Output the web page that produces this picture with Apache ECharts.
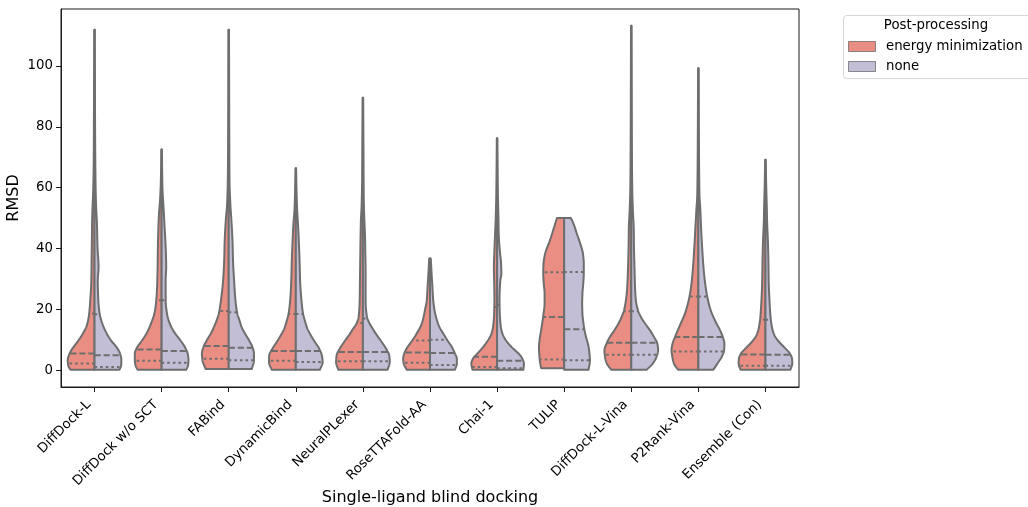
<!DOCTYPE html>
<html>
<head>
<meta charset="utf-8">
<script src="https://cdn.jsdelivr.net/npm/echarts@6/dist/echarts.min.js"></script>
<style>
  html, body { margin: 0; padding: 0; background: #ffffff; }
  #chart { width: 1028px; height: 507px; }
</style>
</head>
<body>
<div id="chart"></div>
<script>
// Docking methods on the x axis
const categories = [
  'DiffDock-L', 'DiffDock w/o SCT', 'FABind', 'DynamicBind', 'NeuralPLexer',
  'RoseTTAFold-AA', 'Chai-1', 'TULIP', 'DiffDock-L-Vina', 'P2Rank-Vina', 'Ensemble (Con)'
];
const groups = ['energy minimization', 'none'];
const yTicks = [0, 20, 40, 60, 80, 100];

// Violin outlines per method: [RMSD, half-width relative to the widest half]
const shapeEnergyMin = [
  [[0.2,0.9],[1.5,0.98],[3.3,1.0],[5.5,0.93],[7.7,0.78],[9.8,0.6],[12,0.44],[14.2,0.31],[16.4,0.24],[18.6,0.2],[23,0.16],[29.5,0.12],[36,0.11],[42.7,0.1],[49.2,0.09],[53.6,0.075],[59,0.05],[70,0.03],[90,0.02],[111.9,0.01]],
  [[0.2,0.9],[1.5,0.97],[3.3,1.0],[5.5,1.0],[7.7,0.9],[9.8,0.73],[12,0.57],[14.2,0.45],[16.4,0.35],[18.6,0.27],[23,0.2],[27.4,0.17],[33.9,0.15],[40.5,0.14],[47,0.12],[51.4,0.1],[55.8,0.06],[62,0.03],[72.5,0.01]],
  [[0.4,0.86],[3.3,0.98],[5.5,1.0],[7.7,0.94],[9.8,0.82],[12,0.67],[14.2,0.55],[16.4,0.45],[18.6,0.37],[23,0.29],[29.5,0.21],[36,0.17],[42.7,0.15],[49.2,0.11],[54.7,0.06],[62,0.035],[80,0.02],[111.9,0.01]],
  [[0.2,0.9],[2.7,1.0],[4.9,0.99],[7.1,0.87],[9.3,0.71],[11.5,0.56],[13.7,0.43],[15.9,0.35],[18.6,0.27],[23,0.21],[29.5,0.17],[36,0.15],[42.7,0.12],[48.1,0.09],[52.5,0.05],[58,0.03],[66.4,0.01]],
  [[0.2,0.92],[2.7,1.0],[4.9,0.98],[7.1,0.86],[9.3,0.7],[11.5,0.52],[13.7,0.36],[15.3,0.24],[17.5,0.16],[23,0.12],[29.5,0.11],[36,0.1],[42.7,0.09],[49.2,0.075],[53.6,0.05],[62,0.03],[75,0.02],[89.5,0.01]],
  [[0.2,0.87],[2.2,0.98],[3.8,1.0],[5.5,0.96],[7.7,0.83],[9.8,0.66],[12,0.5],[14.2,0.36],[16.4,0.27],[19.7,0.19],[23,0.12],[27.4,0.09],[31.7,0.06],[36.7,0.03]],
  [[0.2,0.92],[2.2,0.96],[3.8,0.9],[5.5,0.73],[7.1,0.57],[8.8,0.42],[10.4,0.3],[12,0.21],[14.2,0.15],[18.6,0.11],[24,0.1],[29.5,0.11],[33.9,0.12],[39.4,0.1],[44.9,0.075],[50.3,0.05],[58,0.03],[76.2,0.01]],
  [[0.7,0.86],[3.3,0.91],[5.5,0.93],[7.7,0.94],[9.8,0.92],[12.6,0.87],[15.3,0.82],[18.6,0.77],[21.9,0.73],[25.2,0.73],[28.4,0.76],[31.7,0.78],[35,0.77],[38.3,0.71],[42.7,0.53],[46,0.41],[50,0.27]],
  [[0.2,0.75],[2.2,0.91],[4.4,0.98],[6.6,1.0],[8.8,0.92],[10.9,0.8],[13.1,0.63],[15.3,0.48],[17.5,0.36],[19.7,0.27],[23,0.2],[27.4,0.15],[33.9,0.12],[40.5,0.1],[47,0.09],[52.5,0.06],[60,0.035],[80,0.02],[113.2,0.01]],
  [[0.2,0.76],[2.2,0.91],[4.4,0.97],[6.6,1.0],[8.8,0.96],[10.9,0.87],[13.1,0.77],[15.3,0.66],[17.5,0.55],[19.7,0.46],[23,0.36],[27.4,0.27],[33.9,0.2],[40.5,0.15],[47,0.11],[52.5,0.075],[58,0.04],[70,0.025],[99.2,0.01]],
  [[0.2,0.93],[2.2,1.0],[3.8,0.99],[5.5,0.91],[7.1,0.75],[8.8,0.56],[10.4,0.41],[12,0.31],[14.2,0.24],[17.5,0.19],[23,0.15],[29.5,0.12],[36,0.11],[42.7,0.09],[49.2,0.06],[53.6,0.05],[60,0.03],[69.2,0.01]]
];
const shapeNone = [
  [[0.2,0.93],[1.5,0.99],[3.3,1.0],[5.5,0.95],[7.7,0.81],[9.8,0.61],[12,0.46],[14.2,0.34],[16.4,0.25],[18.6,0.19],[23,0.14],[29.5,0.12],[33.9,0.15],[40.5,0.11],[48,0.09],[53.6,0.06],[60,0.04],[80,0.02],[111.9,0.01]],
  [[0.2,0.92],[1.5,0.98],[3.3,1.0],[5.5,0.97],[7.7,0.86],[9.8,0.7],[12,0.51],[14.2,0.36],[16.4,0.26],[18.6,0.2],[23,0.15],[29.5,0.15],[33.9,0.17],[40.5,0.15],[47,0.11],[53.6,0.07],[60,0.03],[72.5,0.01]],
  [[0.4,0.86],[3.3,0.94],[5.5,0.94],[7.7,0.88],[9.8,0.76],[12,0.61],[14.2,0.48],[16.4,0.4],[18.6,0.32],[23,0.25],[29.5,0.2],[36,0.16],[42.7,0.14],[49.2,0.1],[54.7,0.06],[62,0.03],[80,0.02],[111.9,0.01]],
  [[0.2,0.9],[2.7,1.0],[4.9,0.97],[7.1,0.87],[9.3,0.71],[11.5,0.56],[13.7,0.43],[15.9,0.35],[18.6,0.27],[23,0.21],[29.5,0.16],[36,0.14],[42.7,0.11],[48.1,0.08],[52.5,0.05],[58,0.03],[66.4,0.01]],
  [[0.2,0.92],[2.7,1.0],[4.9,0.98],[7.1,0.86],[9.3,0.7],[11.5,0.52],[13.7,0.36],[15.9,0.22],[17.5,0.15],[23,0.1],[31.7,0.1],[38.3,0.09],[44.9,0.075],[50.3,0.05],[58,0.03],[75,0.02],[89.5,0.01]],
  [[0.2,0.93],[2.2,1.0],[3.8,1.0],[5.5,0.93],[7.7,0.81],[9.8,0.65],[12,0.5],[14.2,0.35],[16.4,0.26],[19.7,0.17],[23,0.12],[27.4,0.09],[31.7,0.06],[36.7,0.03]],
  [[0.2,0.98],[2.2,1.0],[3.8,0.94],[5.5,0.8],[7.1,0.6],[8.8,0.42],[10.4,0.29],[12,0.2],[14.2,0.14],[18.6,0.1],[23,0.09],[29.5,0.12],[31.7,0.16],[35,0.15],[39.4,0.1],[44.9,0.06],[50.3,0.05],[58,0.03],[76.2,0.01]],
  [[0.2,0.91],[3.3,0.96],[5.5,0.94],[7.7,0.91],[9.8,0.85],[12.6,0.77],[15.3,0.72],[18.6,0.68],[21.9,0.67],[25.2,0.68],[28.4,0.71],[31.7,0.73],[35,0.73],[38.3,0.7],[41.6,0.6],[44.9,0.47],[48.1,0.35],[50,0.25]],
  [[0.2,0.58],[2.2,0.8],[4.4,0.94],[6.6,1.0],[8.8,0.97],[10.9,0.85],[13.1,0.7],[15.3,0.52],[17.5,0.36],[19.7,0.25],[23,0.17],[27.4,0.14],[33.9,0.12],[40.5,0.1],[47,0.09],[52.5,0.06],[60,0.035],[80,0.02],[113.2,0.01]],
  [[0.2,0.56],[2.2,0.71],[4.4,0.87],[6.6,0.96],[8.8,0.97],[10.9,0.91],[13.1,0.81],[15.3,0.68],[17.5,0.56],[19.7,0.46],[23,0.36],[27.4,0.27],[33.9,0.19],[40.5,0.14],[47,0.1],[52.5,0.075],[58,0.04],[70,0.025],[99.2,0.01]],
  [[0.2,0.93],[2.2,1.0],[3.8,0.99],[5.5,0.91],[7.1,0.75],[8.8,0.56],[10.4,0.41],[12,0.31],[14.2,0.24],[17.5,0.19],[23,0.15],[29.5,0.12],[36,0.11],[42.7,0.09],[49.2,0.06],[53.6,0.05],[60,0.03],[69.2,0.01]]
];

// Quartiles (Q1, median, Q3) per method and post-processing
const q1EnergyMin     = [2.2, 3.1, 3.8, 3.1, 3.0, 2.5, 1.1, 3.5, 5.1, 6.2, 1.5];
const medianEnergyMin = [5.5, 6.8, 8.0, 6.3, 6.0, 5.8, 4.4, 17.5, 9.0, 10.9, 5.2];
const q3EnergyMin     = [18.6, 23.0, 19.5, 18.5, 15.5, 9.8, 20.8, 32.2, 19.4, 24.2, 16.6];
const q1None          = [1.1, 2.5, 3.3, 2.7, 3.0, 1.7, 0.7, 3.3, 5.1, 6.2, 1.5];
const medianNone      = [4.9, 6.3, 7.4, 6.3, 6.0, 5.7, 3.1, 13.5, 9.0, 10.9, 5.1];
const q3None          = [18.4, 23.0, 19.1, 18.5, 17.0, 10.0, 21.5, 32.3, 19.4, 24.2, 16.6];

const FILL = ['#EA8E83', '#C1BED6'];
const EDGE = '#6e6e6e';
const LINE_W = 2;
const FONT = '"DejaVu Sans", sans-serif';

// Smooth (monotone cubic) width profile through the outline points
function profileFn(pts) {
  const xs = pts.map(p => p[0]), ys = pts.map(p => p[1]);
  const n = xs.length;
  if (n < 2) return () => ys[0] || 0;
  const h = [], d = [], m = new Array(n);
  for (let i = 0; i < n - 1; i++) {
    h.push(xs[i + 1] - xs[i]);
    d.push((ys[i + 1] - ys[i]) / h[i]);
  }
  m[0] = d[0]; m[n - 1] = d[n - 2];
  for (let i = 1; i < n - 1; i++) {
    if (d[i - 1] * d[i] <= 0) m[i] = 0;
    else {
      const w1 = 2 * h[i] + h[i - 1], w2 = h[i] + 2 * h[i - 1];
      m[i] = (w1 + w2) / (w1 / d[i - 1] + w2 / d[i]);
    }
  }
  return function (x) {
    if (x <= xs[0]) return ys[0];
    if (x >= xs[n - 1]) return ys[n - 1];
    let k = 0;
    while (k < n - 2 && x > xs[k + 1]) k++;
    const t = (x - xs[k]) / h[k], t2 = t * t, t3 = t2 * t;
    return (2 * t3 - 3 * t2 + 1) * ys[k] + (t3 - 2 * t2 + t) * h[k] * m[k] +
           (-2 * t3 + 3 * t2) * ys[k + 1] + (t3 - t2) * h[k] * m[k + 1];
  };
}

function makeRenderer(shapes, q1s, meds, q3s, side, fill) {
  return function (params, api) {
    const i = api.value(0);
    const pts = shapes[i];
    const f = profileFn(pts);
    const band = api.size([1, 0])[0];
    const half = band * 0.4;
    const cx = api.coord([i, 0])[0];
    const vMin = pts[0][0], vMax = pts[pts.length - 1][0];

    // sample values along the outline
    const vals = [];
    for (let v = vMin; v < vMax; v += 0.25) vals.push(v);
    pts.forEach(p => vals.push(p[0]));
    vals.push(vMax);
    vals.sort((a, b) => a - b);

    const poly = [[cx, api.coord([i, vMin])[1]]];
    vals.forEach(v => {
      const y = api.coord([i, v])[1];
      poly.push([cx + side * Math.max(0, f(v)) * half, y]);
    });
    poly.push([cx, api.coord([i, vMax])[1]]);

    const children = [{
      type: 'polygon',
      shape: { points: poly },
      style: { fill: fill, stroke: EDGE, lineWidth: LINE_W, lineJoin: 'round' }
    }];

    const inner = [
      [q1s[i], [2.6, 3.0]],
      [meds[i], [6.2, 2.8]],
      [q3s[i], [2.6, 3.0]]
    ];
    inner.forEach(([q, dash]) => {
      const y = api.coord([i, q])[1];
      children.push({
        type: 'line',
        shape: { x1: cx, y1: y, x2: cx + side * f(q) * half, y2: y },
        style: { stroke: EDGE, lineWidth: LINE_W, lineDash: dash }
      });
    });
    return { type: 'group', children: children };
  };
}

const indexData = categories.map((c, i) => [i]);

const chart = echarts.init(document.getElementById('chart'), null, { renderer: 'canvas' });
chart.setOption({
  animation: false,
  backgroundColor: '#ffffff',
  textStyle: { fontFamily: FONT },
  grid: {
    left: 61, right: 229, top: 9, bottom: 120,
    show: true, borderColor: '#1a1a1a', borderWidth: 1, backgroundColor: 'transparent',
    containLabel: false, outerBoundsMode: 'none'
  },
  xAxis: {
    type: 'category',
    data: categories,
    boundaryGap: true,
    name: 'Single-ligand blind docking',
    nameLocation: 'middle',
    nameGap: 103,
    nameMoveOverlap: false,
    nameTextStyle: { fontSize: 16, color: '#000', fontFamily: FONT },
    axisLine: { show: true, onZero: false, lineStyle: { color: '#1a1a1a', width: 1 } },
    axisTick: { show: true, alignWithLabel: true, length: 5, lineStyle: { color: '#1a1a1a', width: 1 } },
    axisLabel: {
      interval: 0, rotate: 45, margin: 10, fontSize: 13.3, color: '#000', fontFamily: FONT,
      padding: [0, 8, 0, 0]
    },
    splitLine: { show: false }
  },
  yAxis: {
    type: 'value',
    min: -5.5,
    max: 118.7,
    name: 'RMSD',
    nameLocation: 'middle',
    nameGap: 39,
    nameMoveOverlap: false,
    nameTextStyle: { fontSize: 16, color: '#000', fontFamily: FONT },
    axisLine: { show: true, onZero: false, lineStyle: { color: '#1a1a1a', width: 1 } },
    axisTick: { show: true, length: 5, customValues: yTicks, lineStyle: { color: '#1a1a1a', width: 1 } },
    axisLabel: { customValues: yTicks, margin: 8, fontSize: 13.3, color: '#000', fontFamily: FONT },
    splitLine: { show: false }
  },
  series: [
    {
      name: groups[0], type: 'custom', data: indexData, z: 2,
      renderItem: makeRenderer(shapeEnergyMin, q1EnergyMin, medianEnergyMin, q3EnergyMin, -1, FILL[0])
    },
    {
      name: groups[1], type: 'custom', data: indexData, z: 2,
      renderItem: makeRenderer(shapeNone, q1None, medianNone, q3None, 1, FILL[1])
    }
  ],
  graphic: [
    {
      type: 'rect', z: 10,
      shape: { x: 843.5, y: 15.5, width: 190, height: 63, r: 3 },
      style: { fill: '#ffffff', stroke: '#d6d6d6', lineWidth: 1 }
    },
    {
      type: 'text', z: 11, x: 936, y: 26,
      style: { text: 'Post-processing', font: '13.3px ' + FONT, fill: '#000',
               align: 'center', verticalAlign: 'middle', textAlign: 'center', textVerticalAlign: 'middle' }
    },
    {
      type: 'rect', z: 11,
      shape: { x: 848.5, y: 41.5, width: 27, height: 10 },
      style: { fill: FILL[0], stroke: EDGE, lineWidth: 0.8 }
    },
    {
      type: 'text', z: 11, x: 886, y: 46.5,
      style: { text: groups[0], font: '13.3px ' + FONT, fill: '#000',
               align: 'left', verticalAlign: 'middle', textAlign: 'left', textVerticalAlign: 'middle' }
    },
    {
      type: 'rect', z: 11,
      shape: { x: 848.5, y: 61.5, width: 27, height: 10 },
      style: { fill: FILL[1], stroke: EDGE, lineWidth: 0.8 }
    },
    {
      type: 'text', z: 11, x: 886, y: 66.5,
      style: { text: groups[1], font: '13.3px ' + FONT, fill: '#000',
               align: 'left', verticalAlign: 'middle', textAlign: 'left', textVerticalAlign: 'middle' }
    }
  ]
});
</script>
</body>
</html>
